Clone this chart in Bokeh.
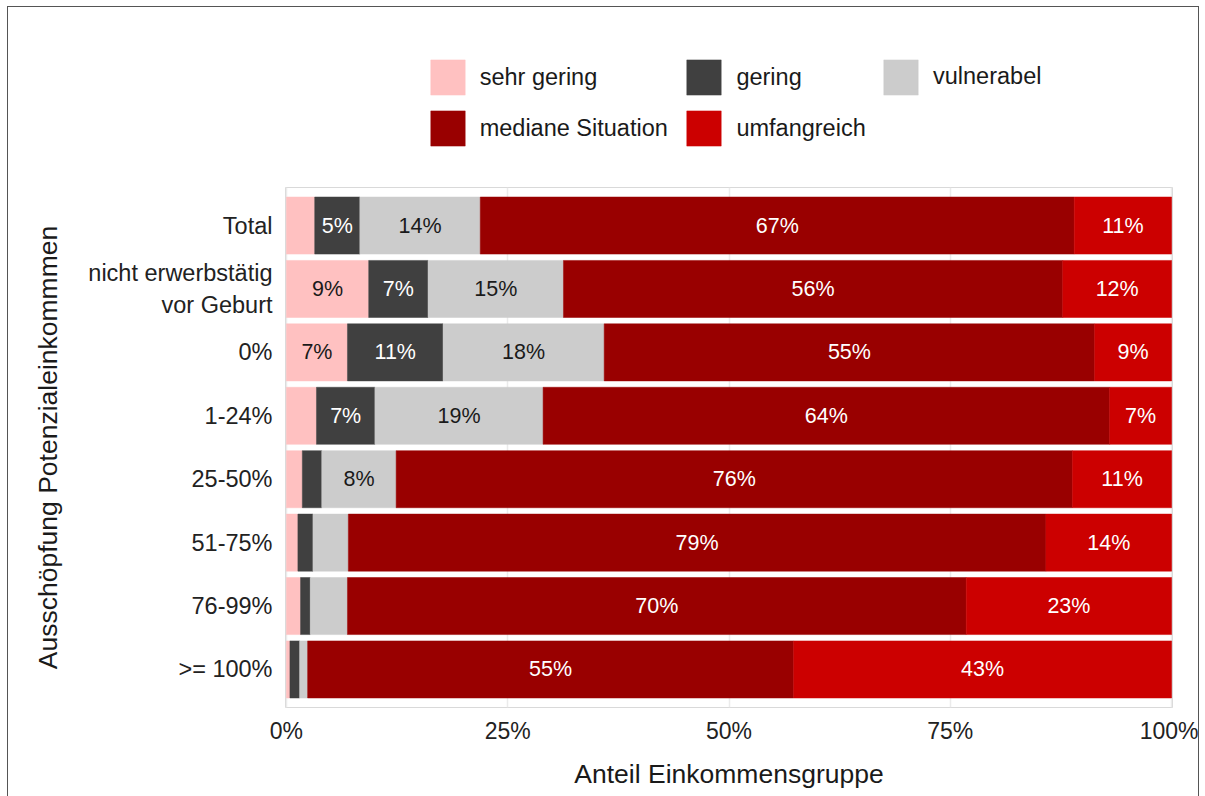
import numpy as np
from bokeh.plotting import figure
from bokeh.layouts import column
from bokeh.models import ColumnDataSource, Legend, LegendItem, FixedTicker, Range1d
from bokeh.core.properties import value
from bokeh.embed import file_html
from bokeh.resources import INLINE

categories = ["Total", "nicht erwerbstätig\nvor Geburt", "0%", "1-24%", "25-50%",
              "51-75%", "76-99%", ">= 100%"]
groups = ["sehr gering", "gering", "vulnerabel", "mediane Situation", "umfangreich"]
colors = ["#FFC1C1", "#404040", "#CCCCCC", "#990000", "#CC0000"]
label_colors = ["#1A1A1A", "#FFFFFF", "#1A1A1A", "#FFFFFF", "#FFFFFF"]

sehr_gering = [3.2, 9.3, 6.9, 3.4, 1.8, 1.3, 1.6, 0.4]
gering = [5.1, 6.7, 10.8, 6.6, 2.2, 1.7, 1.1, 1.1]
vulnerabel = [13.6, 15.3, 18.2, 19.0, 8.4, 4.0, 4.2, 0.9]
mediane = [67.1, 56.4, 55.4, 64.0, 76.4, 78.8, 69.9, 54.9]
umfangreich = [11.0, 12.3, 8.7, 7.0, 11.2, 14.2, 23.2, 42.7]

x_ticks = [0, 25, 50, 75, 100]
x_tick_labels = ["0%", "25%", "50%", "75%", "100%"]

FONT = "Liberation Sans"
series = [sehr_gering, gering, vulnerabel, mediane, umfangreich]
n = len(categories)
ypos = list(range(n, 0, -1))

# ---- legend strip (top); its ranges keep the bars out of view ----
pl = figure(width=1190, height=180, x_range=Range1d(0, 1), y_range=Range1d(100, 101),
            output_backend="svg", toolbar_location=None,
            x_axis_location=None, y_axis_location=None, min_border=0,
            background_fill_color="white", border_fill_color="white")
pl.grid.grid_line_color = None
pl.outline_line_color = None

# ---- main chart ----
p = figure(width=1190, height=609, x_range=Range1d(-0.1, 100.1), y_range=Range1d(0.4, n + 0.6),
           output_backend="svg", toolbar_location=None,
           min_border_left=277, min_border_right=26, min_border_top=0, min_border_bottom=89,
           background_fill_color="white", border_fill_color="white")

left = np.zeros(n)
items = []
lx, ly, lt, lc = [], [], [], []
for g, vals, col, tcol in zip(groups, series, colors, label_colors):
    vals = np.array(vals, dtype=float)
    right = left + vals
    src = ColumnDataSource(dict(y=ypos, left=left.tolist(), right=right.tolist()))
    p.hbar(y="y", left="left", right="right", height=0.9, source=src,
           fill_color=col, line_color=col, line_width=0.5)
    rl = pl.hbar(y="y", left="left", right="right", height=0.9, source=src,
                 fill_color=col, line_color=col, line_width=0.5)
    items.append(LegendItem(label=g, renderers=[rl]))
    for i in range(n):
        if vals[i] >= 5:
            lx.append((left[i] + right[i]) / 2)
            ly.append(ypos[i])
            lt.append(f"{int(round(vals[i]))}%")
            lc.append(tcol)
    left = right

tsrc = ColumnDataSource(dict(x=lx, y=ly, text=lt, color=lc))
p.text(x="x", y="y", text="text", text_color="color", source=tsrc,
       text_align="center", text_baseline="middle", text_font_size="21.5px",
       text_font=value(FONT))

# legend laid out row-wise in three columns (one Legend per column)
legend_cols = [[items[0], items[3]], [items[1], items[4]], [items[2]]]
legend_locs = [(140.7, 36.7), (397.4, 36.7), (594.0, 88.2)]
for its, loc in zip(legend_cols, legend_locs):
    lg = Legend(items=its, location=loc, orientation="vertical",
                glyph_width=43, glyph_height=44, label_standoff=11, spacing=7,
                padding=0, margin=0, border_line_color=None, background_fill_alpha=0,
                label_text_font=FONT, label_text_font_size="23.5px",
                label_text_color="#1A1A1A")
    pl.add_layout(lg, "center")

# axes
p.xaxis.ticker = FixedTicker(ticks=x_ticks)
p.xaxis.major_label_overrides = {t: l for t, l in zip(x_ticks, x_tick_labels)}
p.yaxis.ticker = FixedTicker(ticks=ypos)
p.yaxis.major_label_overrides = {y: c for y, c in zip(ypos, categories)}
for ax in (p.xaxis[0], p.yaxis[0]):
    ax.axis_line_color = None
    ax.major_tick_line_color = None
    ax.minor_tick_line_color = None
    ax.major_tick_out = 0
    ax.major_tick_in = 0
    ax.major_label_text_font = FONT
    ax.major_label_text_font_size = "23px"
    ax.major_label_text_color = "#222222"
    ax.axis_label_text_font = FONT
    ax.axis_label_text_font_size = "26.5px"
    ax.axis_label_text_font_style = "normal"
    ax.axis_label_text_color = "#1A1A1A"
p.yaxis.major_label_text_font_size = "23.5px"
p.xaxis.axis_label = "Anteil Einkommensgruppe"
p.yaxis.axis_label = "Ausschöpfung Potenzialeinkommmen"
p.xaxis.major_label_standoff = 10
p.xaxis.axis_label_standoff = 12
p.yaxis.major_label_standoff = 13
p.yaxis.axis_label_standoff = 22

p.xgrid.ticker = FixedTicker(ticks=x_ticks)
p.xgrid.grid_line_color = "#EBEBEB"
p.xgrid.grid_line_width = 1.5
p.ygrid.grid_line_color = None
p.outline_line_color = "#D9D9D9"
p.outline_line_width = 1

layout = column(pl, p, spacing=0,
                styles={"outline": "1.5px solid #555555", "margin-left": "8px", "margin-top": "7px"})

open("out.html", "w").write(file_html(layout, INLINE))
